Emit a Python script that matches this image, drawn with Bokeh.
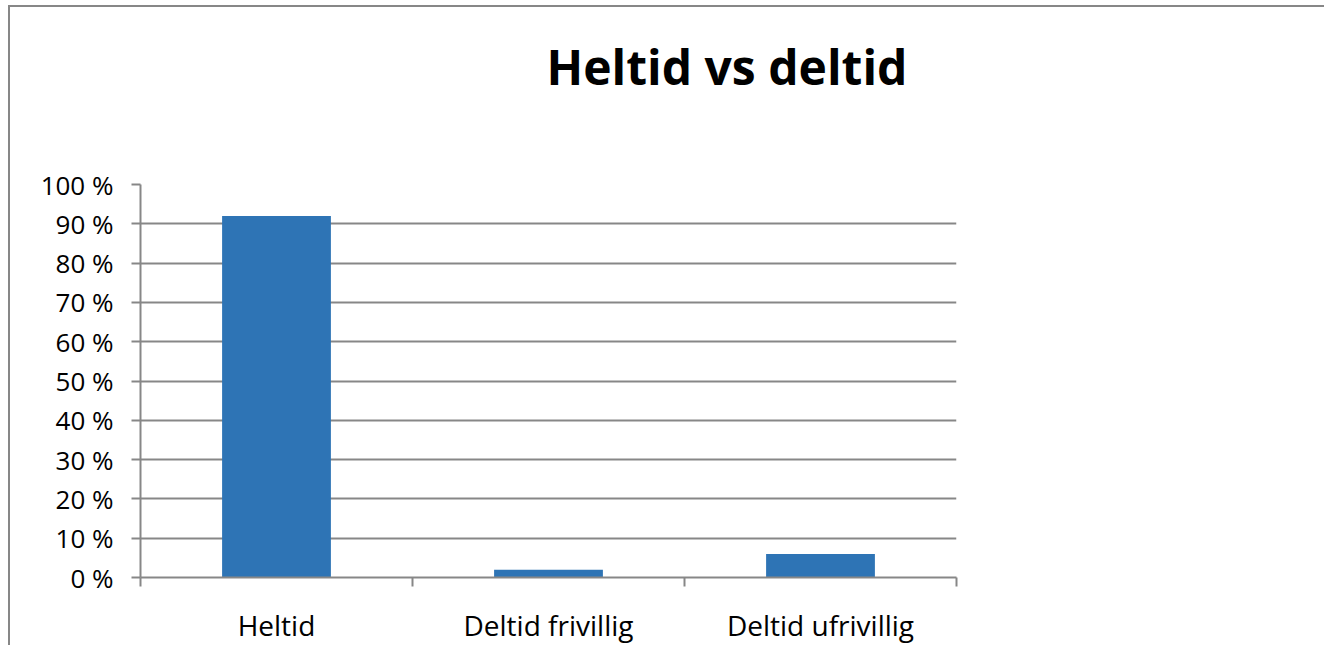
from bokeh.plotting import figure
from bokeh.models import Range1d, FixedTicker, PrintfTickFormatter, ColumnDataSource, Title
from bokeh.embed import file_html
from bokeh.resources import INLINE

categories = ["Heltid", "Deltid frivillig", "Deltid ufrivillig"]
values = [92, 2, 6]
y_ticks = [0, 10, 20, 30, 40, 50, 60, 70, 80, 90, 100]
title_text = "Heltid vs deltid"

GRAY = "#878787"
FONT = "Open Sans"

positions = [i + 0.5 for i in range(len(categories))]
source = ColumnDataSource(dict(x=positions, top=values, cat=categories))

p = figure(width=1316, height=640, output_backend="svg", toolbar_location=None,
           x_range=Range1d(0, len(categories)), y_range=Range1d(0, 100),
           min_border_left=130, min_border_right=370, min_border_top=177, min_border_bottom=70)
p.margin = (5, 0, 0, 8)
p.styles = {"border-left": f"2px solid {GRAY}", "border-top": f"2px solid {GRAY}"}
p.outline_line_color = None
p.background_fill_color = "white"
p.border_fill_color = "white"

# spacer between frame and title (closest to the frame), then the title itself
spacer = Title(text=" ", text_font_size="10px", standoff=73, text_color="white")
p.add_layout(spacer, "above")
main_title = Title(text=title_text, align="left", offset=406, text_font=FONT,
                   text_font_style="bold", text_font_size="48px", text_color="black",
                   standoff=0, vertical_align="bottom")
p.add_layout(main_title, "above")

p.vbar(x="x", top="top", width=0.4, bottom=0, source=source, color="#2E74B5", line_color=None)

# y axis
p.yaxis.ticker = FixedTicker(ticks=y_ticks)
p.yaxis.formatter = PrintfTickFormatter(format="%d %%")
p.yaxis.axis_line_color = GRAY
p.yaxis.axis_line_width = 2
p.yaxis.major_tick_line_color = GRAY
p.yaxis.major_tick_line_width = 2
p.yaxis.major_tick_out = 9
p.yaxis.major_tick_in = 0
p.yaxis.minor_tick_line_color = None
p.yaxis.major_label_text_font = FONT
p.yaxis.major_label_text_font_size = "26px"
p.yaxis.major_label_text_color = "black"
p.yaxis.major_label_standoff = 18

# x axis: labels at centres, ticks at boundaries
p.xaxis.ticker = FixedTicker(ticks=positions, minor_ticks=list(range(len(categories) + 1)))
p.xaxis.major_label_overrides = {pos: c for pos, c in zip(positions, categories)}
p.xaxis.axis_line_color = GRAY
p.xaxis.axis_line_width = 2
p.xaxis.major_tick_line_color = None
p.xaxis.minor_tick_line_color = GRAY
p.xaxis.minor_tick_line_width = 2
p.xaxis.minor_tick_out = 9
p.xaxis.minor_tick_in = 0
p.xaxis.major_label_text_font = FONT
p.xaxis.major_label_text_font_size = "28px"
p.xaxis.major_label_text_color = "black"
p.xaxis.major_label_standoff = 19

p.xgrid.grid_line_color = None
p.ygrid.ticker = FixedTicker(ticks=y_ticks)
p.ygrid.grid_line_color = GRAY
p.ygrid.grid_line_width = 2

open("out.html", "w").write(file_html(p, INLINE))
